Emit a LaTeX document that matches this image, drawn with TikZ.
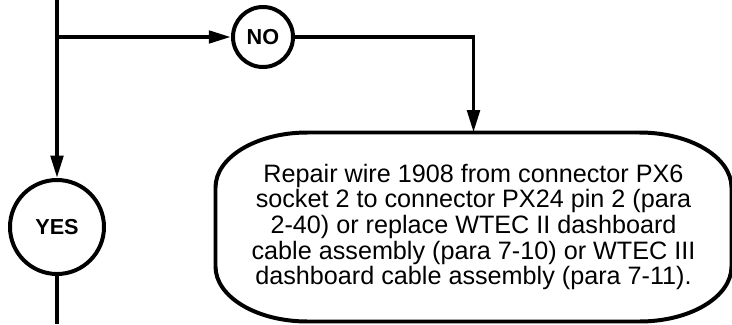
\documentclass[tikz,border=0pt]{standalone}
\usepackage{fontspec}
\setmainfont{Liberation Sans}
\usetikzlibrary{arrows.meta, positioning, calc}

\begin{document}
\begin{tikzpicture}[
    x=0.03cm, y=0.03cm,
    line width=3.4pt,
    answer/.style={circle, draw, line width=3.4pt, inner sep=0pt, font=\fontsize{18.5}{20}\selectfont\bfseries},
    action/.style={rectangle, inner sep=0pt, minimum width=15.36cm, minimum height=5.55cm, align=center, font=\fontsize{21.5}{21.9}\selectfont},
    arrow/.style={-{Triangle[length=19pt, width=10.5pt]}, line width=3.4pt}
]
    \useasboundingbox (0,0) rectangle (732,324);

    % Nodes
    \coordinate (top) at (57,324);
    \coordinate (split) at (57,287);
    \coordinate (bottom) at (57,0);
    \node[answer, minimum size=2.82cm] (yes) at (57,97) {YES};
    \node[answer, minimum size=1.8cm] (no) at (263,287) {NO};
    \node[action] (fix) at (473.5,97) {Repair wire 1908 from connector PX6\\ socket 2 to connector PX24 pin 2 (para\\ 2-40) or replace WTEC II dashboard\\ cable assembly (para 7-10) or WTEC III\\ dashboard cable assembly (para 7-11).};

    % Outline of the action box
    \draw ($(fix.north west)+(92,0)$) -- ($(fix.north east)+(-92,0)$)
        arc[start angle=90, end angle=0, x radius=92, y radius=55]
        -- ($(fix.south east)+(0,55)$)
        arc[start angle=0, end angle=-90, x radius=92, y radius=55]
        -- ($(fix.south west)+(92,0)$)
        arc[start angle=270, end angle=180, x radius=92, y radius=55]
        -- ($(fix.north west)+(0,-55)$)
        arc[start angle=180, end angle=90, x radius=92, y radius=55]
        -- cycle;

    % Links
    \draw (top) -- (split);
    \draw[arrow] (split) -- (no);
    \draw[arrow] (split) -- (yes);
    \draw[arrow] (no) -| (fix);
    \draw (yes) -- (bottom);
\end{tikzpicture}
\end{document}
